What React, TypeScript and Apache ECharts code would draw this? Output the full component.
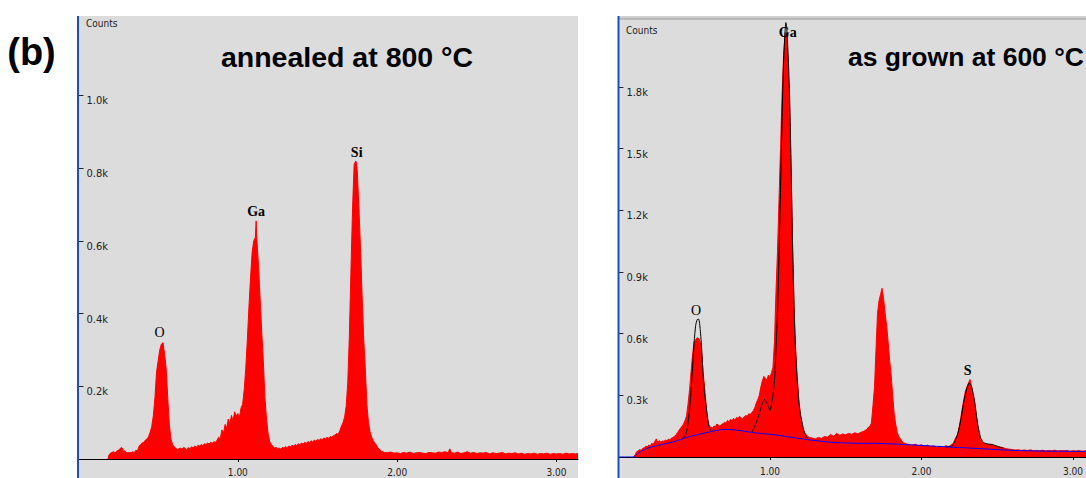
import React, { useEffect, useRef } from "react";
import * as echarts from "echarts";

// ---------- DATA ----------
// Left panel: annealed at 800 °C  (keV, counts)
const leftSpectrum: [number, number][] = [
  [0.185, 0], [0.19, 10], [0.2, 16], [0.21, 18], [0.22, 20], [0.23, 17], [0.24, 22], [0.25, 24], [0.26, 28], [0.27, 32],
  [0.28, 25], [0.29, 22], [0.3, 18], [0.31, 17], [0.32, 18], [0.33, 17], [0.34, 20], [0.35, 18], [0.36, 24], [0.37, 22],
  [0.38, 35], [0.39, 40], [0.4, 44], [0.41, 46], [0.42, 52], [0.43, 55], [0.44, 62], [0.45, 74], [0.46, 90], [0.47, 120],
  [0.48, 170], [0.49, 240], [0.5, 270], [0.51, 300], [0.52, 316], [0.53, 320], [0.54, 290], [0.55, 250], [0.56, 170],
  [0.57, 95], [0.58, 55], [0.59, 40], [0.6, 34], [0.61, 30], [0.62, 26], [0.63, 28], [0.64, 30], [0.65, 27], [0.66, 32],
  [0.67, 29], [0.68, 26], [0.69, 31], [0.7, 28], [0.71, 34], [0.72, 30], [0.73, 36], [0.74, 32], [0.75, 38], [0.76, 35],
  [0.77, 40], [0.78, 37], [0.79, 42], [0.8, 40], [0.81, 44], [0.82, 41], [0.83, 46], [0.84, 43], [0.85, 48], [0.86, 45],
  [0.87, 52], [0.88, 60], [0.89, 56], [0.9, 80], [0.91, 70], [0.92, 95], [0.93, 85], [0.94, 110], [0.95, 95], [0.96, 120],
  [0.97, 105], [0.98, 130], [0.99, 118], [1.0, 125], [1.01, 115], [1.02, 140], [1.03, 150], [1.04, 190], [1.05, 250],
  [1.06, 330], [1.07, 420], [1.08, 500], [1.09, 570], [1.1, 600], [1.11, 610], [1.115, 655], [1.12, 600], [1.13, 530],
  [1.14, 440], [1.15, 350], [1.16, 270], [1.17, 170], [1.18, 110], [1.19, 70], [1.2, 48], [1.21, 40], [1.22, 35],
  [1.23, 30], [1.24, 32], [1.25, 28], [1.26, 30], [1.27, 27], [1.28, 32], [1.29, 30], [1.3, 34], [1.31, 31], [1.32, 36],
  [1.33, 33], [1.34, 38], [1.35, 35], [1.36, 40], [1.37, 37], [1.38, 42], [1.39, 39], [1.4, 44], [1.41, 41], [1.42, 46],
  [1.43, 43], [1.44, 48], [1.45, 45], [1.46, 50], [1.47, 47], [1.48, 52], [1.49, 49], [1.5, 54], [1.51, 51], [1.52, 56],
  [1.53, 53], [1.54, 58], [1.55, 55], [1.56, 60], [1.57, 57], [1.58, 62], [1.59, 60], [1.6, 64], [1.61, 66], [1.62, 70],
  [1.63, 68], [1.64, 78], [1.65, 90], [1.66, 100], [1.67, 115], [1.68, 145], [1.69, 210], [1.7, 340], [1.71, 520],
  [1.72, 690], [1.73, 810], [1.74, 820], [1.745, 815], [1.75, 790], [1.76, 690], [1.77, 580], [1.78, 450], [1.79, 330],
  [1.8, 250], [1.81, 150], [1.82, 100], [1.83, 75], [1.84, 60], [1.85, 50], [1.86, 44], [1.87, 38], [1.88, 30],
  [1.89, 26], [1.9, 22], [1.91, 20], [1.92, 18], [1.94, 17], [1.96, 19], [1.98, 16], [2.0, 17], [2.02, 15], [2.04, 18],
  [2.06, 16], [2.08, 19], [2.1, 15], [2.12, 17], [2.14, 18], [2.16, 16], [2.18, 15], [2.2, 18], [2.22, 17], [2.24, 16],
  [2.26, 19], [2.28, 18], [2.3, 20], [2.32, 17], [2.33, 28], [2.34, 18], [2.36, 16], [2.38, 19], [2.4, 15], [2.42, 17],
  [2.44, 20], [2.46, 16], [2.48, 18], [2.5, 15], [2.52, 17], [2.54, 16], [2.56, 18], [2.58, 14], [2.6, 17], [2.62, 15],
  [2.64, 16], [2.66, 18], [2.68, 14], [2.7, 16], [2.72, 15], [2.74, 17], [2.76, 14], [2.78, 16], [2.8, 13], [2.82, 15],
  [2.84, 14], [2.86, 16], [2.88, 13], [2.9, 15], [2.92, 14], [2.94, 16], [2.96, 13], [2.98, 15], [3.0, 14], [3.02, 15],
  [3.04, 13], [3.06, 16], [3.08, 14], [3.1, 15], [3.12, 14], [3.135, 15],
];

// Right panel: as grown at 600 °C  (keV, counts)
const rightSpectrum: [number, number][] = [
  [0.1, 0], [0.11, 10], [0.12, 25], [0.13, 30], [0.14, 36], [0.15, 33], [0.16, 42], [0.17, 45], [0.18, 52], [0.19, 50],
  [0.2, 58], [0.21, 55], [0.22, 66], [0.23, 62], [0.24, 75], [0.25, 88], [0.26, 70], [0.27, 80], [0.28, 72], [0.29, 78],
  [0.3, 76], [0.31, 82], [0.32, 80], [0.33, 86], [0.34, 84], [0.35, 92], [0.36, 95], [0.37, 100], [0.38, 108], [0.39, 118],
  [0.4, 130], [0.41, 140], [0.42, 150], [0.43, 160], [0.44, 178], [0.45, 200], [0.46, 260], [0.47, 330], [0.48, 420],
  [0.49, 500], [0.5, 560], [0.51, 570], [0.52, 580], [0.53, 576], [0.54, 560], [0.55, 500], [0.56, 400], [0.57, 330],
  [0.58, 240], [0.59, 180], [0.6, 150], [0.61, 145], [0.62, 140], [0.63, 150], [0.64, 148], [0.65, 160], [0.66, 155],
  [0.67, 150], [0.68, 158], [0.69, 162], [0.7, 168], [0.71, 165], [0.72, 178], [0.73, 172], [0.74, 182], [0.75, 176],
  [0.76, 188], [0.77, 180], [0.78, 192], [0.79, 188], [0.8, 198], [0.81, 190], [0.82, 186], [0.83, 195], [0.84, 202],
  [0.85, 198], [0.86, 210], [0.87, 208], [0.88, 215], [0.89, 225], [0.9, 240], [0.91, 262], [0.92, 280], [0.93, 300],
  [0.94, 340], [0.95, 370], [0.96, 392], [0.97, 382], [0.98, 375], [0.99, 398], [1.0, 385], [1.01, 410], [1.02, 435],
  [1.03, 560], [1.04, 800], [1.05, 1000], [1.06, 1250], [1.07, 1500], [1.08, 1750], [1.09, 1950], [1.1, 2060],
  [1.11, 2057], [1.12, 1913], [1.13, 1700], [1.14, 1380], [1.15, 1020], [1.16, 720], [1.17, 520], [1.18, 390],
  [1.19, 290], [1.2, 210], [1.21, 160], [1.22, 130], [1.23, 118], [1.24, 108], [1.25, 100], [1.26, 95], [1.28, 92],
  [1.3, 88], [1.32, 95], [1.34, 90], [1.36, 100], [1.38, 96], [1.4, 110], [1.42, 100], [1.44, 115], [1.46, 105],
  [1.48, 112], [1.5, 108], [1.52, 115], [1.54, 110], [1.56, 118], [1.58, 112], [1.6, 120], [1.62, 125], [1.64, 135],
  [1.65, 145], [1.66, 150], [1.67, 165], [1.68, 250], [1.69, 338], [1.7, 520], [1.71, 698], [1.72, 760], [1.73, 790],
  [1.74, 820], [1.75, 770], [1.76, 700], [1.77, 640], [1.78, 560], [1.79, 470], [1.8, 400], [1.81, 300], [1.82, 210],
  [1.83, 160], [1.84, 120], [1.85, 100], [1.86, 90], [1.87, 78], [1.88, 70], [1.9, 64], [1.92, 60], [1.94, 58],
  [1.96, 62], [1.98, 55], [2.0, 60], [2.02, 52], [2.04, 58], [2.06, 50], [2.08, 54], [2.1, 48], [2.12, 52], [2.14, 46],
  [2.16, 55], [2.18, 50], [2.2, 62], [2.21, 66], [2.22, 85], [2.23, 98], [2.24, 114], [2.25, 150], [2.26, 192],
  [2.27, 240], [2.28, 280], [2.29, 320], [2.3, 340], [2.31, 358], [2.32, 377], [2.33, 345], [2.34, 300], [2.35, 270],
  [2.36, 210], [2.37, 160], [2.38, 114], [2.39, 85], [2.4, 72], [2.42, 65], [2.44, 60], [2.46, 62], [2.48, 56],
  [2.5, 52], [2.52, 48], [2.54, 45], [2.56, 40], [2.58, 38], [2.6, 36], [2.62, 34], [2.64, 35], [2.66, 32], [2.68, 34],
  [2.7, 31], [2.72, 35], [2.74, 30], [2.76, 32], [2.78, 30], [2.8, 33], [2.82, 29], [2.84, 31], [2.86, 30], [2.88, 33],
  [2.9, 29], [2.92, 31], [2.94, 30], [2.96, 32], [2.98, 28], [3.0, 30], [3.02, 29], [3.04, 31], [3.06, 28], [3.086, 30],
];

// Right panel fitted peaks (black) and background (blue)
const fitO: [number, number][] = [
  [0.42, 90], [0.44, 100], [0.455, 143], [0.47, 230], [0.48, 323], [0.49, 440], [0.5, 560], [0.51, 640], [0.52, 668],
  [0.53, 670], [0.54, 620], [0.55, 520], [0.56, 387], [0.57, 300], [0.58, 240], [0.59, 180], [0.6, 143], [0.61, 128],
];
const fitGa: [number, number][] = [
  [0.88, 120], [0.9, 150], [0.92, 190], [0.93, 211], [0.95, 260], [0.965, 280], [0.98, 262], [1.0, 226], [1.02, 300],
  [1.03, 372], [1.04, 520], [1.05, 698], [1.06, 980], [1.07, 1300], [1.08, 1650], [1.09, 1920], [1.1, 2070],
  [1.105, 2112], [1.11, 2095], [1.12, 1960], [1.13, 1750], [1.14, 1400], [1.15, 1000], [1.16, 700], [1.17, 500],
  [1.18, 372], [1.19, 270], [1.2, 215], [1.21, 177], [1.22, 140], [1.23, 115], [1.24, 100], [1.25, 88],
];
const fitS: [number, number][] = [
  [2.16, 50], [2.2, 52], [2.22, 75], [2.24, 114], [2.26, 180], [2.28, 270], [2.3, 335], [2.315, 360], [2.33, 345],
  [2.35, 275], [2.37, 165], [2.39, 95], [2.41, 70], [2.44, 63], [2.47, 60], [2.5, 52], [2.54, 43],
];
const backgroundRight: [number, number][] = [
  [0, 0], [0.1, 0], [0.12, 12], [0.15, 28], [0.185, 41], [0.25, 55], [0.32, 66], [0.4, 82], [0.45, 95], [0.52, 108],
  [0.6, 122], [0.66, 131], [0.72, 134], [0.8, 129], [0.885, 119], [0.95, 114], [1.02, 109], [1.13, 97], [1.24, 85],
  [1.32, 78], [1.41, 71], [1.55, 67], [1.72, 66], [1.85, 62], [2.0, 56], [2.2, 48], [2.38, 41], [2.6, 32], [2.8, 29],
  [3.086, 27],
];

// Element labels
const leftLabelNames = ["O", "Ga", "Si"];
const leftLabelKeV = [0.509, 1.115, 1.746];
const leftLabelCounts = [347, 682, 842];
const rightLabelNames = ["O", "Ga", "S"];
const rightLabelKeV = [0.513, 1.118, 2.305];
const rightLabelCounts = [710, 2062, 423];

// Ticks
const xTickValues = [1, 2, 3];
const leftYTicks = [200, 400, 600, 800, 1000];
const rightYTicks = [300, 600, 900, 1200, 1500, 1800];

const leftTitle = "annealed at 800 °C";
const rightTitle = "as grown at 600 °C";
const panelLetter = "(b)";

// ---------- CHART ----------
const GRAY = "#DCDCDC";
const BLUE_EDGE = "#1E50B4";
const NARROW = "'Liberation Sans Narrow', 'DejaVu Sans Condensed', sans-serif";
const BOLD_SANS = "'Liberation Sans', Arial, sans-serif";

function peakMarks(names: string[], kev: number[], counts: number[]) {
  return {
    symbol: "circle",
    symbolSize: 0,
    silent: true,
    label: {
      show: true,
      position: "inside",
      formatter: "{b}",
      color: "#000",
      fontFamily: "'Liberation Serif', serif",
      fontSize: 14,
    },
    data: names.map((n, i) => ({
      name: n,
      coord: [kev[i], counts[i]],
      label: { fontWeight: n === "O" ? "normal" : "bold" },
    })),
  };
}

function yAxisFor(gridIndex: number, max: number, ticks: number[]) {
  return {
    type: "value",
    gridIndex,
    min: 0,
    max,
    splitLine: { show: false },
    axisLine: { show: false },
    axisTick: {
      show: true,
      inside: true,
      length: 5,
      customValues: ticks,
      lineStyle: { color: "#222", width: 1 },
    },
    axisLabel: {
      show: true,
      inside: true,
      margin: 8,
      customValues: ticks,
      verticalAlign: "top",
      color: "#222",
      fontFamily: NARROW,
      fontSize: 11,
      formatter: (v: number) => (v / 1000).toFixed(1) + "k",
    },
  };
}

function xAxisFor(gridIndex: number, max: number, offset: number) {
  return {
    type: "value",
    gridIndex,
    min: 0,
    max,
    offset,
    splitLine: { show: false },
    axisLine: { show: true, lineStyle: { color: "#000", width: 1 } },
    axisTick: { show: true, length: 3, customValues: xTickValues, lineStyle: { color: "#000" } },
    axisLabel: {
      show: true,
      margin: 5,
      customValues: xTickValues,
      color: "#222",
      fontFamily: NARROW,
      fontSize: 10,
      lineHeight: 10,
      verticalAlign: "top",
      formatter: (v: number) => v.toFixed(2),
    },
  };
}

export default function App() {
  const ref = useRef<HTMLDivElement>(null);
  useEffect(() => {
    document.body.style.margin = "0";
    document.body.style.overflow = "hidden";
    const chart = echarts.init(ref.current!, null, { renderer: "svg" });
    const option: any = {
      animation: false,
      backgroundColor: "#FFFFFF",
      grid: [
        { left: 78.5, top: 16, width: 499.5, height: 443, outerBoundsMode: "none", containLabel: false },
        { left: 618.4, top: 19, width: 467.6, height: 438, outerBoundsMode: "none", containLabel: false },
      ],
      xAxis: [xAxisFor(0, 3.135, 3), xAxisFor(1, 3.086, 4)],
      yAxis: [yAxisFor(0, 1218.7, leftYTicks), yAxisFor(1, 2129.7, rightYTicks)],
      graphic: [
        { type: "rect", z: -10, silent: true, shape: { x: 78.5, y: 16, width: 499.5, height: 462 }, style: { fill: GRAY } },
        { type: "rect", z: -10, silent: true, shape: { x: 618, y: 16, width: 468, height: 462 }, style: { fill: GRAY } },
        { type: "rect", z: -9, silent: true, shape: { x: 618, y: 16, width: 468, height: 3 }, style: { fill: "#CFCFCF" } },
        { type: "rect", z: -9, silent: true, shape: { x: 618, y: 18.5, width: 468, height: 1 }, style: { fill: "#9C9C9C" } },
        { type: "rect", z: 20, silent: true, shape: { x: 77, y: 16, width: 2, height: 462 }, style: { fill: BLUE_EDGE } },
        { type: "rect", z: 20, silent: true, shape: { x: 617.5, y: 16, width: 2, height: 462 }, style: { fill: BLUE_EDGE } },
        {
          type: "text", z: 20, silent: true, x: 86, y: 23,
          style: { text: "Counts", fill: "#222", font: "10px " + NARROW, textVerticalAlign: "middle" },
        },
        {
          type: "text", z: 20, silent: true, x: 626, y: 30,
          style: { text: "Counts", fill: "#222", font: "10px " + NARROW, textVerticalAlign: "middle" },
        },
        {
          type: "text", z: 20, silent: true, x: 31.5, y: 52,
          style: { text: panelLetter, fill: "#000", font: "bold 38px " + BOLD_SANS, textAlign: "center", textVerticalAlign: "middle" },
        },
        {
          type: "text", z: 20, silent: true, x: 347, y: 57,
          style: { text: leftTitle, fill: "#000", font: "bold 28.5px " + BOLD_SANS, textAlign: "center", textVerticalAlign: "middle" },
        },
        {
          type: "text", z: 20, silent: true, x: 966, y: 57,
          style: { text: rightTitle, fill: "#000", font: "bold 26.5px " + BOLD_SANS, textAlign: "center", textVerticalAlign: "middle" },
        },
      ],
      series: [
        {
          type: "line", xAxisIndex: 0, yAxisIndex: 0, data: leftSpectrum, symbol: "none",
          lineStyle: { color: "#FF0000", width: 1 }, areaStyle: { color: "#FF0000", opacity: 1 }, z: 2,
          markPoint: peakMarks(leftLabelNames, leftLabelKeV, leftLabelCounts),
        },
        {
          type: "line", xAxisIndex: 1, yAxisIndex: 1, data: rightSpectrum, symbol: "none",
          lineStyle: { color: "#FF0000", width: 1 }, areaStyle: { color: "#FF0000", opacity: 1 }, z: 2,
          markPoint: peakMarks(rightLabelNames, rightLabelKeV, rightLabelCounts),
        },
        ...[fitO, fitGa, fitS].map((d) => ({
          type: "line", xAxisIndex: 1, yAxisIndex: 1, data: d, symbol: "none", smooth: 0.2,
          lineStyle: { color: "#000", width: 1 }, z: 3,
        })),
        {
          type: "line", xAxisIndex: 1, yAxisIndex: 1, data: backgroundRight, symbol: "none", smooth: 0.3,
          lineStyle: { color: "#0000FF", width: 1 }, z: 4,
        },
      ],
    };
    chart.setOption(option);
    return () => chart.dispose();
  }, []);
  return <div ref={ref} style={{ width: 1086, height: 478 }} />;
}
